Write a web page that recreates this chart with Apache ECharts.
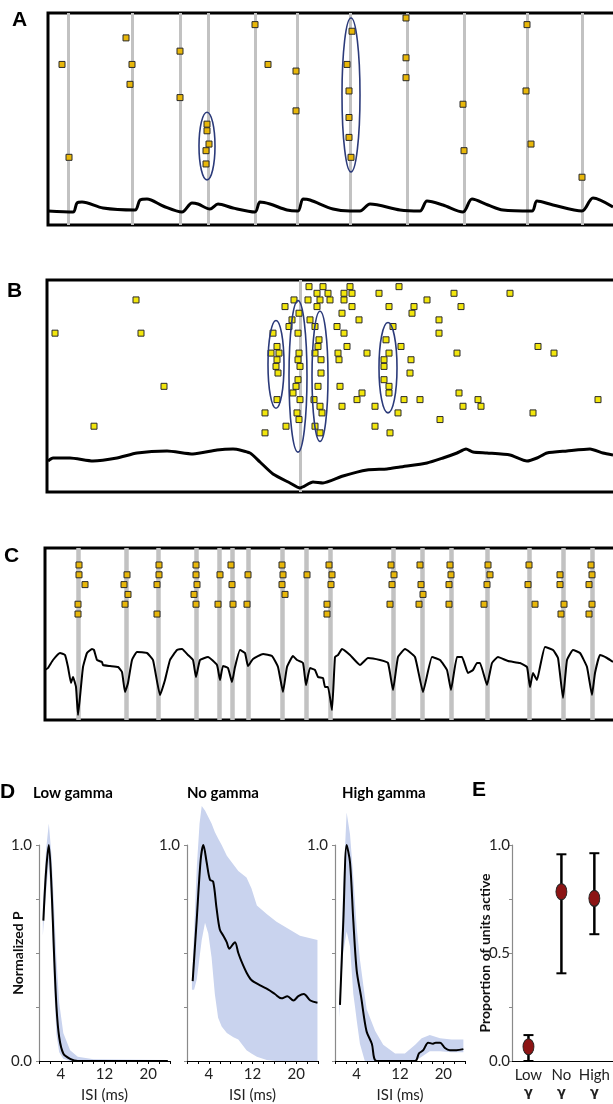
<!DOCTYPE html>
<html>
<head>
<meta charset="utf-8">
<script src="https://cdn.jsdelivr.net/npm/echarts@6/dist/echarts.min.js"></script>
<style>
  html, body { margin: 0; padding: 0; background: #fff; }
  #chart { width: 613px; height: 1104px; }
</style>
</head>
<body>
<div id="chart"></div>
<script>
// ---- panel A : spikes [time, unit], cycle markers, LFP trace, highlighted groups [t, unit, halfT, halfUnits]
const aSpikes = [[14,8],[21,22],[78,4],[84,8],[82,11],[132,6],[132,13],[159,17],[159,18],[161,20],[158,21],[158,23],
  [207,2],[220,8],[248,9],[248,15],[304,3],[299,8],[301,12],[301,16],[301,19],[303,22],[358,1],[358,7],[358,10],
  [415,14],[416,21],[479,2],[478,12],[483,20],[534,25]]
const aCycles = [20,84,132,160,207,249,302,359,416,479,534]
const aTrace = [[0,14],[25,13],[29,22],[34,23],[55,17],[87,15],[92,25],[99,26],[115,19],[134,13],[144,22],[150,21],
  [162,16],[170,21],[185,17],[207,13],[212,23],[222,21],[239,15],[250,14],[255,26],[262,25],[285,16],[302,14],[312,14],
  [322,21],[352,15],[372,14],[379,24],[395,20],[415,13],[424,26],[440,20],[455,15],[484,14],[489,24],[505,20],
  [534,14],[545,27],[565,18]]
const aGroups = [[159,20.3,8,5.1],[303,12.6,9,11.6]]

// ---- panel B
const bSpikes = [[8,8],[89,3],[94,8],[117,16],[47,22],
  [226,8],[230,10],[224,11],[232,11],[230,12],[229,13],[231,14],[230,18],[218,20],[218,23],
  [238,4],[247,3],[245,6],[242,7],[252,5],[251,8],[252,11],[251,12],[253,13],[251,15],[249,16],[246,17],[253,18],[250,20],[252,21],[239,22],
  [262,1],[276,1],[303,1],[352,1],[270,2],[281,2],[297,2],[305,2],[332,2],[407,2],[463,2],
  [261,3],[273,3],[283,3],[297,3],[380,3],[270,4],[305,4],[342,4],[367,4],[414,4],[295,5],[365,5],
  [263,6],[312,6],[392,6],[268,7],[290,7],[346,7],[297,8],[392,8],[272,9],[339,9],
  [271,10],[300,10],[354,10],[491,10],[268,11],[291,11],[320,11],[342,11],[410,11],[507,11],
  [274,12],[292,12],[337,12],[364,12],[337,13],[274,14],[363,14],[337,15],[271,16],[293,16],[342,16],
  [315,17],[342,17],[412,17],[267,18],[310,18],[357,18],[373,18],[431,18],[551,18],
  [273,19],[295,19],[328,19],[416,19],[434,19],[275,20],[351,20],[486,20],[393,21],[268,22],[328,22],[273,23],[343,23]]
const bCycles = [253]
const bTrace = [[1,31],[6,34],[23,34],[46,31],[70,34],[90,39],[120,41],[146,38],[170,42],[186,43],[203,39],[213,30],
  [226,18],[243,9],[253,4],[266,10],[276,9],[296,16],[320,22],[340,23],[353,25],[380,29],[396,34],[410,39],[419,43],
  [426,40],[440,39],[463,37],[480,31],[490,34],[500,39],[520,41],[543,43],[556,39],[566,37]]
const bGroups = [[229,12.7,8,6.6],[251,14.5,9,11.4],[273,14.5,8,9.8],[341,13.2,9,6.8]]

// ---- panel C
const cSpikes = [[34,1],[34,2],[40,3],[33,5],[33,6],[82,2],[79,3],[83,4],[80,5],[114,1],[114,2],[112,3],[112,6],
  [151,1],[151,2],[152,3],[149,4],[151,5],[175,2],[173,5],[186,1],[187,3],[188,5],[203,2],[202,5],
  [237,1],[238,2],[237,3],[240,4],[262,2],[284,1],[287,2],[286,3],[282,5],[282,6],[346,1],[349,2],[347,3],[345,5],
  [375,1],[376,3],[378,4],[374,5],[405,1],[406,2],[404,3],[404,5],[443,1],[445,2],[442,3],[439,5],
  [484,1],[483,3],[490,5],[515,2],[515,3],[519,5],[516,6],[546,1],[547,2],[544,3],[547,5],[544,6]]
const cCycles = [33,81,113,151,174,187,203,237,261,285,348,377,406,442,484,518,547]
const cTrace = [[0,50],[3,52],[8,60],[15,67],[20,65],[23,53],[26,37],[28,43],[31,33],[33,5],[35,23],[38,53],[42,67],
  [47,71],[49,70],[52,60],[57,58],[58,55],[65,54],[73,53],[77,48],[80,28],[83,37],[87,60],[92,68],[102,67],[108,60],
  [115,25],[120,40],[125,60],[132,70],[137,71],[143,65],[148,60],[151,43],[155,60],[163,63],[172,55],[175,40],[178,54],
  [183,52],[187,38],[190,53],[195,70],[200,67],[203,54],[208,61],[218,66],[227,64],[233,53],[238,28],[242,53],[248,64],
  [252,60],[258,57],[261,35],[265,52],[270,50],[273,43],[278,42],[280,33],[283,33],[287,10],[290,63],[293,65],[297,71],
  [305,65],[315,55],[323,62],[335,60],[343,57],[348,30],[353,63],[360,71],[370,63],[378,28],[387,63],[395,60],[402,50],
  [406,30],[412,63],[417,63],[423,47],[428,50],[432,57],[435,57],[442,35],[447,57],[453,63],[463,59],[475,57],[482,53],
  [485,33],[488,47],[492,40],[495,53],[500,73],[508,70],[513,62],[518,22],[522,60],[528,70],[535,67],[542,53],[547,25],
  [550,47],[555,65],[562,62],[568,58]]

// ---- panel D : ISI distributions (ms, normalized P) and bands [ms, low, high]
const lowX = [0.8, 1.3, 1.8, 2.3, 2.75, 3.2, 3.7, 4.45, 5.7, 7.1, 12, 18, 23.6]
const lowY = [0.65, 0.88, 1.0, 0.8, 0.5, 0.25, 0.11, 0.035, 0.01, 0, 0, 0, 0]
const lowBand = [[0.7,0.58,0.72],[1.3,0.78,0.98],[1.8,0.92,1.1],[2.3,0.7,0.95],[2.75,0.35,0.72],[3.2,0.12,0.47],
  [3.7,0.04,0.27],[4.45,0.01,0.13],[5.7,0,0.05],[7.1,0,0.02],[10,0,0.008],[23.6,0,0.005]]
const noX = [1.04,1.77,2.5,3.0,3.6,4.2,4.8,5.4,6.0,6.65,7.27,7.75,8.4,8.8,9.4,10.0,10.9,11.8,13.4,14.9,16.1,17.3,18.4,19.5,20.4,21.4,22.6,23.9]
const noY = [0.37,0.65,0.93,1.0,0.92,0.84,0.83,0.71,0.61,0.58,0.55,0.52,0.54,0.55,0.50,0.46,0.41,0.375,0.35,0.33,0.31,0.29,0.30,0.28,0.30,0.31,0.28,0.27]
const noBand = [[0.9,0.33,0.38],[1.3,0.33,0.6],[1.8,0.38,0.9],[2.3,0.48,1.1],[2.7,0.56,1.18],[3.3,0.64,1.16],[3.9,0.59,1.13],
  [4.5,0.48,1.1],[5.1,0.31,1.06],[5.7,0.2,1.03],[6.35,0.16,1.0],[7.3,0.13,0.95],[8.5,0.11,0.91],[9.4,0.1,0.88],
  [10.9,0.05,0.85],[11.8,0.035,0.8],[12.8,0.02,0.72],[14.6,0.005,0.68],[16.4,0,0.645],[20.7,0,0.58],[23.9,0,0.56]]
const highX = [0.92,1.54,2.15,2.77,3.38,4.0,4.8,5.8,6.8,7.7,14.8,15.5,16.3,17.2,18.1,18.6,19.4,20.3,21.2,22.4,23.7]
const highY = [0.26,0.65,1.0,0.92,0.65,0.42,0.30,0.14,0.08,0,0,0.035,0.05,0.085,0.08,0.085,0.085,0.06,0.05,0.05,0.055]
const highBand = [[0.8,0.2,0.27],[1.5,0.5,0.8],[2.15,0.6,1.15],[2.77,0.53,1.05],[3.38,0.31,0.85],[3.7,0.25,0.73],
  [4.0,0.19,0.62],[4.6,0.08,0.47],[5.5,0,0.3],[5.85,0,0.24],[7.4,0,0.14],[8.9,0,0.075],[11.1,0,0.035],[12.9,0,0.035],
  [14.8,0,0.075],[16,0.02,0.105],[17.5,0.045,0.12],[19.4,0.045,0.105],[21.5,0.04,0.1],[23.7,0.04,0.1]]
const isiTicks = [4, 12, 20]

// ---- panel E
const eGroups = ['Low', 'No', 'High']
const eMean = [0.066, 0.784, 0.753]
const eLow = [0.0, 0.406, 0.587]
const eHigh = [0.12, 0.957, 0.962]

const FONT = 'Lato, "Open Sans", sans-serif'

function pairs(xs, ys) {
  return xs.map((x, i) => [x, ys[i]])
}

function rasterSeries(xi, yi, data, color) {
  return {
    type: 'scatter', xAxisIndex: xi, yAxisIndex: yi, data, symbol: 'rect', symbolSize: 6, z: 4, silent: true,
    itemStyle: { color, borderColor: '#2a2a2a', borderWidth: 1, opacity: 1 },
  }
}

function traceSeries(xi, yi, data, width, cycles, cycleWidth, smooth) {
  return {
    type: 'line', xAxisIndex: xi, yAxisIndex: yi, data, symbol: 'none', smooth, z: 2, silent: true,
    lineStyle: { color: '#000', width },
    markLine: {
      silent: true, z: 1, symbol: ['none', 'none'], label: { show: false }, animation: false,
      lineStyle: { color: '#c2c2c2', width: cycleWidth, type: 'solid' },
      data: cycles.map(v => ({ xAxis: v })),
    },
  }
}

function groupSeries(xi, yi, data) {
  return {
    type: 'custom', xAxisIndex: xi, yAxisIndex: yi, data, z: 5, silent: true,
    encode: { x: 0, y: 1 },
    renderItem(params, api) {
      const c = api.coord([api.value(0), api.value(1)])
      const s = api.size([api.value(2), api.value(3)])
      return {
        type: 'ellipse',
        shape: { cx: c[0], cy: c[1], rx: s[0], ry: s[1] },
        style: { fill: null, stroke: '#2b3a7a', lineWidth: 1.6 },
      }
    },
  }
}

function bandSeries(xi, yi, band) {
  return {
    type: 'custom', xAxisIndex: xi, yAxisIndex: yi, data: [[band[0][0], band[0][1]]], z: 1, silent: true,
    encode: { x: 0, y: 1 },
    renderItem(params, api) {
      const top = band.map(b => api.coord([b[0], b[2]]))
      const bot = band.slice().reverse().map(b => api.coord([b[0], b[1]]))
      return { type: 'polygon', shape: { points: top.concat(bot) }, style: { fill: '#c9d3ee' } }
    },
  }
}

function curveSeries(xi, yi, data) {
  return {
    type: 'line', xAxisIndex: xi, yAxisIndex: yi, data, symbol: 'none', smooth: 0.3, z: 3, silent: true,
    lineStyle: { color: '#000', width: 2 },
  }
}

// hidden axes for the raster panels
function hiddenX(g) { return { gridIndex: g, type: 'value', min: 0, max: 580, show: false } }
function hiddenY(g, min, max, inverse) { return { gridIndex: g, type: 'value', min, max, inverse, show: false } }

function isiXAxis(g) {
  return {
    gridIndex: g, type: 'value', min: 0, max: 24, interval: 2,
    axisLine: { show: true, lineStyle: { color: '#000', width: 1.2 } },
    axisTick: { show: true, length: 3, lineStyle: { color: '#000' } },
    splitLine: { show: false },
    axisLabel: {
      formatter: v => (isiTicks.indexOf(v) >= 0 ? String(v) : ''),
      fontSize: 15, color: '#222', margin: 6, fontFamily: FONT,
    },
    name: 'ISI (ms)', nameLocation: 'middle', nameGap: 27, nameMoveOverlap: false,
    nameTextStyle: { fontSize: 15, color: '#222', fontFamily: FONT },
  }
}

function isiYAxis(g, showZero, name) {
  const ax = {
    gridIndex: g, type: 'value', min: 0, max: 1, interval: 0.25,
    axisLine: { show: true, lineStyle: { color: '#8a8a8a', width: 1.2 } },
    axisTick: { show: true, length: 3, lineStyle: { color: '#8a8a8a' } },
    splitLine: { show: false },
    axisLabel: {
      formatter: v => (v === 1 ? '1.0' : (v === 0 && showZero ? '0.0' : '')),
      fontSize: 15, color: '#222', margin: 7, fontFamily: FONT,
    },
  }
  if (name) {
    ax.name = name
    ax.nameLocation = 'middle'
    ax.nameGap = 14
    ax.nameMoveOverlap = false
    ax.nameTextStyle = { fontSize: 14, fontWeight: 'bold', color: '#111', fontFamily: FONT }
  }
  return ax
}

function label(text, x, y, font, align) {
  return {
    type: 'text', x, y, silent: true,
    style: { text, font, fill: '#000', align: align || 'left', verticalAlign: 'middle' },
  }
}

function panelGrid(left, top, width, height, framed) {
  const g = { left, top, width, height, outerBoundsMode: 'none', containLabel: false }
  if (framed) {
    g.show = true
    g.borderColor = '#000'
    g.borderWidth = 3
    g.backgroundColor = 'transparent'
  }
  return g
}

const chartInstance = echarts.init(document.getElementById('chart'))

const option = {
  animation: false,
  grid: [
    panelGrid(48, 13, 580, 212, true),
    panelGrid(47, 280, 580, 212, true),
    panelGrid(45, 548, 580, 172, true),
    panelGrid(39, 845, 131, 216),
    panelGrid(187, 845, 131, 216),
    panelGrid(335, 845, 130, 216),
    panelGrid(512, 845, 112, 216),
  ],
  xAxis: [
    hiddenX(0), hiddenX(1), hiddenX(2),
    isiXAxis(3), isiXAxis(4), isiXAxis(5),
    {
      gridIndex: 6, type: 'value', min: 0.5, max: 3.9, interval: 0.5,
      axisLine: { show: true, lineStyle: { color: '#000', width: 1.2 } },
      axisTick: { show: false },
      splitLine: { show: false },
      axisLabel: {
        margin: 4,
        formatter: v => {
          const i = Math.round(v)
          if (Math.abs(v - i) > 1e-6 || i < 1 || i > 3) return ''
          return '{a|' + eGroups[i - 1] + '}\n{b|γ}'
        },
        rich: {
          a: { fontSize: 15, color: '#222', lineHeight: 20, fontFamily: FONT },
          b: { fontSize: 13, fontWeight: 'bold', color: '#222', lineHeight: 16, fontFamily: '"DejaVu Sans"' },
        },
      },
    },
  ],
  yAxis: [
    hiddenY(0, 0.25, 32.2, true), hiddenY(0, 0, 212, false),
    hiddenY(1, 0, 31.9, true), hiddenY(1, 0, 212, false),
    hiddenY(2, -0.73, 16.8, true), hiddenY(2, 0, 172, false),
    isiYAxis(3, true, 'Normalized P'), isiYAxis(4, false), isiYAxis(5, false),
    {
      gridIndex: 6, type: 'value', min: 0, max: 1, interval: 0.25,
      axisLine: { show: true, lineStyle: { color: '#8a8a8a', width: 1.2 } },
      axisTick: { show: true, length: 3, lineStyle: { color: '#8a8a8a' } },
      splitLine: { show: false },
      axisLabel: {
        formatter: v => (v === 0 || v === 0.5 || v === 1 ? v.toFixed(1) : ''),
        fontSize: 15, color: '#222', margin: 2, fontFamily: FONT,
      },
      name: 'Proportion of units active', nameLocation: 'middle', nameGap: 20, nameMoveOverlap: false,
      nameTextStyle: { fontSize: 14, fontWeight: 'bold', color: '#111', fontFamily: FONT },
    },
  ],
  graphic: [
    label('A', 12, 20, 'bold 21px "Liberation Sans"'),
    label('B', 7, 291, 'bold 21px "Liberation Sans"'),
    label('C', 4, 556, 'bold 21px "Liberation Sans"'),
    label('D', 0, 792, 'bold 21px "Liberation Sans"'),
    label('E', 472, 790, 'bold 21px "Liberation Sans"'),
    label('Low gamma', 33, 793, 'bold 15px Lato'),
    label('No gamma', 187, 793, 'bold 15px Lato'),
    label('High gamma', 342, 793, 'bold 15px Lato'),
  ],
  series: [
    traceSeries(0, 1, aTrace, 3, aCycles, 3, 0.3),
    rasterSeries(0, 0, aSpikes, '#e8b70a'),
    groupSeries(0, 0, aGroups),

    traceSeries(1, 3, bTrace, 3, bCycles, 3, 0.2),
    rasterSeries(1, 2, bSpikes, '#f2e60c'),
    groupSeries(1, 2, bGroups),

    traceSeries(2, 5, cTrace, 2, cCycles, 4.5, 0.12),
    rasterSeries(2, 4, cSpikes, '#e8b70a'),

    bandSeries(3, 6, lowBand),
    curveSeries(3, 6, pairs(lowX, lowY)),
    bandSeries(4, 7, noBand),
    curveSeries(4, 7, pairs(noX, noY)),
    bandSeries(5, 8, highBand),
    curveSeries(5, 8, pairs(highX, highY)),

    {
      type: 'custom', xAxisIndex: 6, yAxisIndex: 9, z: 2, silent: true,
      data: eGroups.map((g, i) => [i + 1, eLow[i], eHigh[i]]),
      encode: { x: 0, y: [1, 2] },
      renderItem(params, api) {
        const lo = api.coord([api.value(0), api.value(1)])
        const hi = api.coord([api.value(0), api.value(2)])
        const w = 5
        return {
          type: 'group',
          children: [
            { type: 'line', shape: { x1: lo[0], y1: lo[1], x2: hi[0], y2: hi[1] }, style: { stroke: '#000', lineWidth: 2.5 } },
            { type: 'line', shape: { x1: hi[0] - w, y1: hi[1], x2: hi[0] + w, y2: hi[1] }, style: { stroke: '#000', lineWidth: 2 } },
            { type: 'line', shape: { x1: lo[0] - w, y1: lo[1], x2: lo[0] + w, y2: lo[1] }, style: { stroke: '#000', lineWidth: 2 } },
          ],
        }
      },
    },
    {
      type: 'scatter', xAxisIndex: 6, yAxisIndex: 9, z: 3, silent: true,
      data: eGroups.map((g, i) => [i + 1, eMean[i]]),
      symbol: 'circle', symbolSize: [11, 16],
      itemStyle: { color: '#8c1414', borderColor: '#222', borderWidth: 1, opacity: 1 },
    },
  ],
}

chartInstance.setOption(option)
window.addEventListener('resize', () => chartInstance.resize())
</script>
</body>
</html>
